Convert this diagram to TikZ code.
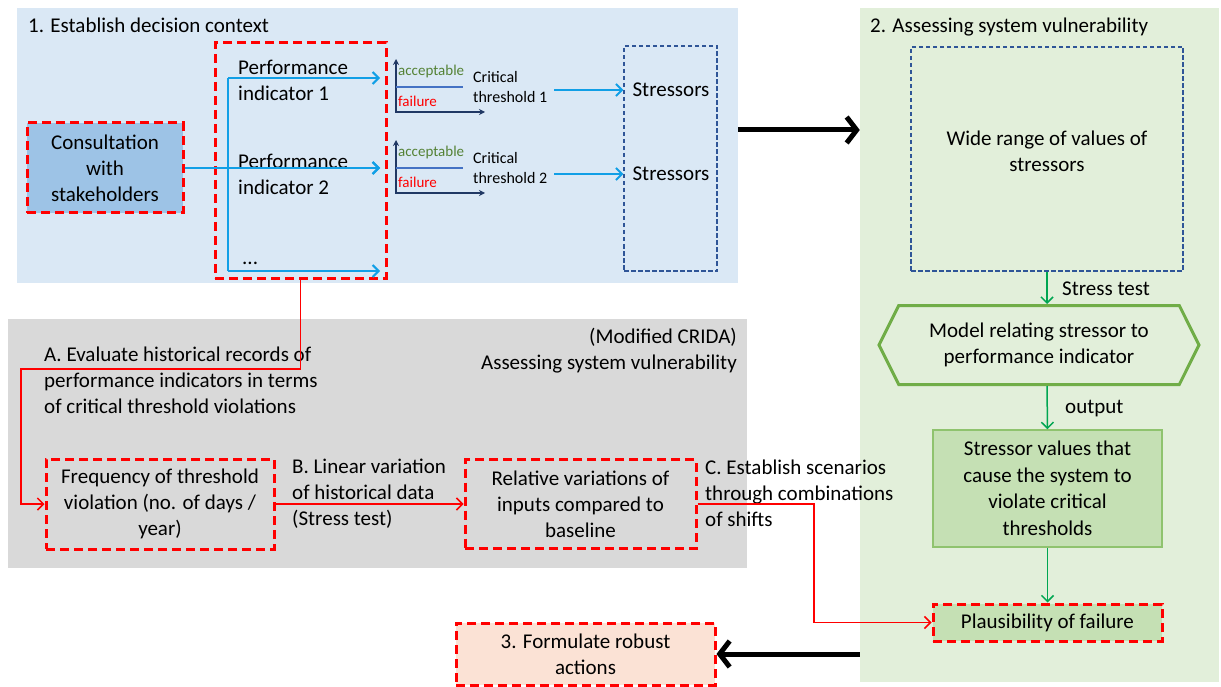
\documentclass[tikz,border=0pt]{standalone}
\usepackage{fontspec}
\setmainfont{Carlito}
\usetikzlibrary{arrows.meta,shapes.symbols}
\definecolor{ctxblue}{HTML}{DAE8F5}
\definecolor{vulgreen}{HTML}{E2EFDA}
\definecolor{cridagray}{HTML}{D9D9D9}
\definecolor{consblue}{HTML}{9DC3E6}
\definecolor{linkblue}{HTML}{119FE6}
\definecolor{navy}{HTML}{203864}
\definecolor{dashnavy}{HTML}{2F5597}
\definecolor{thrblue}{HTML}{4472C4}
\definecolor{okgreen}{HTML}{548235}
\definecolor{hexgreen}{HTML}{70AD47}
\definecolor{boxgreen}{HTML}{C5E0B4}
\definecolor{edgegreen}{HTML}{8FC36E}
\definecolor{arrgreen}{HTML}{00A651}
\definecolor{peach}{HTML}{FBE2D5}
\tikzset{
  big/.style={font=\fontsize{21}{26}\selectfont},
  small/.style={font=\fontsize{15}{18}\selectfont},
  panel/.style={fill=#1, inner sep=0},
  reddash/.style={draw=red, line width=3pt, dash pattern=on 9pt off 5pt},
  navydash/.style={draw=dashnavy, line width=1.2pt, dash pattern=on 4.5pt off 2.5pt},
  bluearr/.style={draw=linkblue, line width=2pt, -{Straight Barb[length=6pt,width=12pt]}},
  redarr/.style={draw=red, line width=1.5pt, -{Straight Barb[length=6pt,width=12pt]}},
  greenarr/.style={draw=arrgreen, line width=1.5pt, -{Straight Barb[length=6pt,width=12pt]}},
  bigarr/.style={line width=5pt, -{Straight Barb[length=10pt,width=26pt]}},
  axis/.style={draw=navy, line width=1.5pt, {Stealth[length=6pt,width=6pt]}-{Stealth[length=6pt,width=6pt]}},
  txt/.style={inner sep=0, align=left, anchor=west},
}
\begin{document}
\begin{tikzpicture}[x=1pt,y=-1pt,big]
    \useasboundingbox (0,0) rectangle (1221,687);
    \node[panel=ctxblue, minimum width=721pt, minimum height=275pt] (ctx) at (377.5,145.5) {};
    \node[panel=vulgreen, minimum width=359pt, minimum height=674pt] (vul) at (1039.5,345) {};
    \node[panel=cridagray, minimum width=739pt, minimum height=249pt] (crida) at (377.5,443.5) {};
    \node[anchor=base west, inner sep=0] (ctxtitle) at (28,33) {1. Establish decision context};
    \node[anchor=base west, inner sep=0] (vultitle) at (870,33) {2. Assessing system vulnerability};

    \node[reddash, fill=consblue, minimum width=156pt, minimum height=90pt, align=center] (cons) at (105,168) {Consultation\\with\\stakeholders};
    \node[reddash, minimum width=171pt, minimum height=235pt] (indbox) at (300.5,160.5) {};
    \node[txt] (pi1) at (238,80) {Performance\\indicator 1};
    \node[txt] (pi2) at (238,174) {Performance\\indicator 2};
    \node[anchor=base west, inner sep=0] (pidots) at (242,265) {...};
    \foreach \n/\y in {1/78,2/168,3/271}
      {
        \coordinate (tip\n) at (380,\y);
        \draw[bluearr] (tip\n -| 228,0) -- (tip\n);
      }
    \draw[linkblue, line width=2pt] (tip1 -| 228,0) -- (tip3 -| 228,0);
    \draw[bluearr] (cons.east) -- (tip2);

    \foreach \n/\dy in {1/0,2/81}
      {
        \begin{scope}[shift={(0,\dy)}]
            \draw[axis] (396,59) -- (396,112) -- (485,112);
            \draw[thrblue, line width=1.5pt] (396,87) -- (463,87);
            \node[txt, small, text=okgreen] at (398,72) {acceptable};
            \node[txt, small, text=red] at (398,101) {failure};
            \node[txt, font=\fontsize{16}{20}\selectfont] (ct\n) at (473,87) {Critical\\threshold \n};
        \end{scope}
      }
    \node[navydash, minimum width=93pt, minimum height=225pt] (stbox) at (670.5,158.5) {};
    \node (st1) at (671,90) {Stressors};
    \node (st2) at (671,174) {Stressors};
    \foreach \n in {1,2}
        \draw[bluearr, shorten <=7pt] (ct\n.east |- st\n) -- (stbox.west |- st\n);
    \draw[bigarr] (ctx.east |- 0,130) -- (vul.west |- 0,130);

    \node[navydash, minimum width=272pt, minimum height=224pt] (range) at (1047,159) {};
    \node[align=center] (rangetxt) at (1047,151) {Wide range of values of\\stressors};
    \node[signal, signal to=west and east, signal pointer angle=127, draw=hexgreen, line width=3pt, fill=vulgreen, minimum width=320pt, minimum height=79pt, align=center] (model) at (1039,345) {Model relating stressor to\\performance indicator};
    \draw[greenarr] (range.south) -- (range.south |- model.north);
    \node[txt] (stress) at (1062,289) {Stress test};
    \node[draw=edgegreen, line width=1.5pt, fill=boxgreen, minimum width=229pt, minimum height=117pt, align=center, font=\fontsize{21}{26.5}\selectfont] (svals) at (1047.5,488.5) {Stressor values that\\cause the system to\\violate critical\\thresholds};
    \draw[greenarr] (range.south |- model.south) -- (svals.north);
    \node[txt] (outlbl) at (1065,409) {output};
    \node[reddash, fill=boxgreen, minimum width=229pt, minimum height=37pt] (plaus) at (1047.5,622.5) {Plausibility of failure};
    \draw[greenarr] (svals.south) -- (plaus.north);

    \node[inner sep=0, align=right, anchor=east] (cridatitle) at (737,351) {(Modified CRIDA)\\Assessing system vulnerability};
    \node[txt] (stepa) at (44,380) {A. Evaluate historical records of\\performance indicators in terms\\of critical threshold violations};
    \node[reddash, minimum width=228pt, minimum height=90pt, align=center] (freq) at (160,504) {Frequency of threshold\\violation (no. of days /\\year)};
    \node[txt] (stepb) at (292,494) {B. Linear variation\\of historical data\\(Stress test)};
    \node[reddash, minimum width=231pt, minimum height=89pt, align=center] (rel) at (580.5,504) {Relative variations of\\inputs compared to\\baseline};
    \node[txt] (stepc) at (705,493) {C. Establish scenarios\\through combinations\\of shifts};
    \draw[redarr] (indbox.south) |- (21,369) |- (freq.west);
    \draw[redarr] (freq.east) -- (rel.west);
    \draw[redarr] (rel.east) -| (814,560) |- (plaus.west);

    \node[reddash, fill=peach, minimum width=259pt, minimum height=62pt, align=center] (form) at (585.5,654) {3. Formulate robust\\actions};
    \draw[bigarr] (vul.west |- form.east) -- (form.east);
\end{tikzpicture}
\end{document}
